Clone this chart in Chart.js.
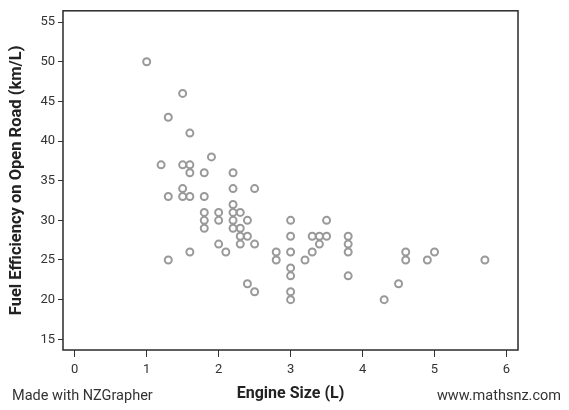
<!DOCTYPE html>
<html>
<head>
<meta charset="utf-8">
<script src="https://cdn.jsdelivr.net/npm/chart.js@4"></script>
<style>
  html, body { margin: 0; padding: 0; background: #fff; }
  #wrap { position: relative; width: 569px; height: 410px; }
  .foot { position: absolute; top: 386px; font: 14.5px Roboto, sans-serif; color: #333; line-height: 20px; }
</style>
</head>
<body>
<div id="wrap">
  <canvas id="Grafik" width="569" height="410"></canvas>
  <span class="foot" style="left:12px">Made with NZGrapher</span>
  <span class="foot" style="right:8px">www.mathsnz.com</span>
</div>
<script>
// engine size (L) and fuel efficiency (km/L)
const engineSize = [1.0, 1.5, 1.3, 1.6, 1.9,
    1.2, 1.5, 1.6,
    1.6, 1.8, 2.2,
    1.5, 2.2, 2.5,
    1.3, 1.5, 1.6, 1.8,
    2.2,
    1.8, 2.0, 2.2, 2.3,
    1.8, 2.0, 2.2, 2.4, 3.0, 3.5,
    1.8, 2.2, 2.3,
    2.3, 2.4, 3.0, 3.3, 3.4, 3.5, 3.8,
    2.0, 2.3, 2.5, 3.4, 3.8,
    1.6, 2.1, 2.8, 3.0, 3.3, 3.8, 4.6, 5.0,
    1.3, 2.8, 3.2, 4.6, 4.9, 5.7,
    3.0,
    3.0, 3.8,
    2.4, 4.5,
    2.5, 3.0,
    3.0, 4.3];
const efisiensi = [50, 46, 43, 41, 38,
    37, 37, 37,
    36, 36, 36,
    34, 34, 34,
    33, 33, 33, 33,
    32,
    31, 31, 31, 31,
    30, 30, 30, 30, 30, 30,
    29, 29, 29,
    28, 28, 28, 28, 28, 28, 28,
    27, 27, 27, 27, 27,
    26, 26, 26, 26, 26, 26, 26, 26,
    25, 25, 25, 25, 25, 25,
    24,
    23, 23,
    22, 22,
    21, 21,
    20, 20];
const tickX = [0, 1, 2, 3, 4, 5, 6];
const tickY = [15, 20, 25, 30, 35, 40, 45, 50, 55];

const titik = engineSize.map((x, i) => ({ x: x, y: efisiensi[i] }));

const kotak = {
    id: 'kotak',
    afterDraw(chart) {
        const a = chart.chartArea;
        const ctx = chart.ctx;
        ctx.save();
        ctx.strokeStyle = '#2a2a2a';
        ctx.lineWidth = 1.5;
        ctx.strokeRect(a.left, a.top, a.right - a.left, a.bottom - a.top);
        ctx.restore();
    }
};

const hurufTick = { family: 'Roboto, sans-serif', size: 13 };

new Chart(document.getElementById('Grafik'), {
    type: 'scatter',
    data: {
        datasets: [{
            data: titik,
            pointRadius: 3.5,
            pointHoverRadius: 3.5,
            pointBorderWidth: 2,
            borderColor: '#999',
            backgroundColor: 'rgba(0,0,0,0)'
        }]
    },
    options: {
        responsive: false,
        animation: false,
        layout: { padding: { left: 0, top: 10, right: 51, bottom: 0 } },
        plugins: { legend: { display: false }, tooltip: { enabled: false } },
        scales: {
            x: {
                type: 'linear',
                min: -0.163,
                max: 6.16,
                afterBuildTicks: s => { s.ticks = tickX.map(v => ({ value: v })); },
                afterFit: s => { s.height = 60; },
                grid: { drawOnChartArea: false, tickLength: 7, color: '#333' },
                border: { display: false },
                ticks: { font: hurufTick, color: '#333', padding: 5 },
                title: { display: true, text: 'Engine Size (L)', font: { family: 'Roboto, sans-serif', size: 16, weight: 'bold' }, color: '#222', padding: { top: 0, bottom: 6 } }
            },
            y: {
                type: 'linear',
                min: 13.65,
                max: 56.42,
                afterBuildTicks: s => { s.ticks = tickY.map(v => ({ value: v })); },
                afterFit: s => { s.width = 63; },
                grid: { drawOnChartArea: false, tickLength: 5, color: '#333' },
                border: { display: false },
                ticks: { font: hurufTick, color: '#333', padding: 3 },
                title: { display: true, text: 'Fuel Efficiency on Open Road (km/L)', font: { family: 'Roboto, sans-serif', size: 16.5, weight: 'bold' }, color: '#222', padding: { top: 7, bottom: 0 } }
            }
        }
    },
    plugins: [kotak]
});
</script>
</body>
</html>
